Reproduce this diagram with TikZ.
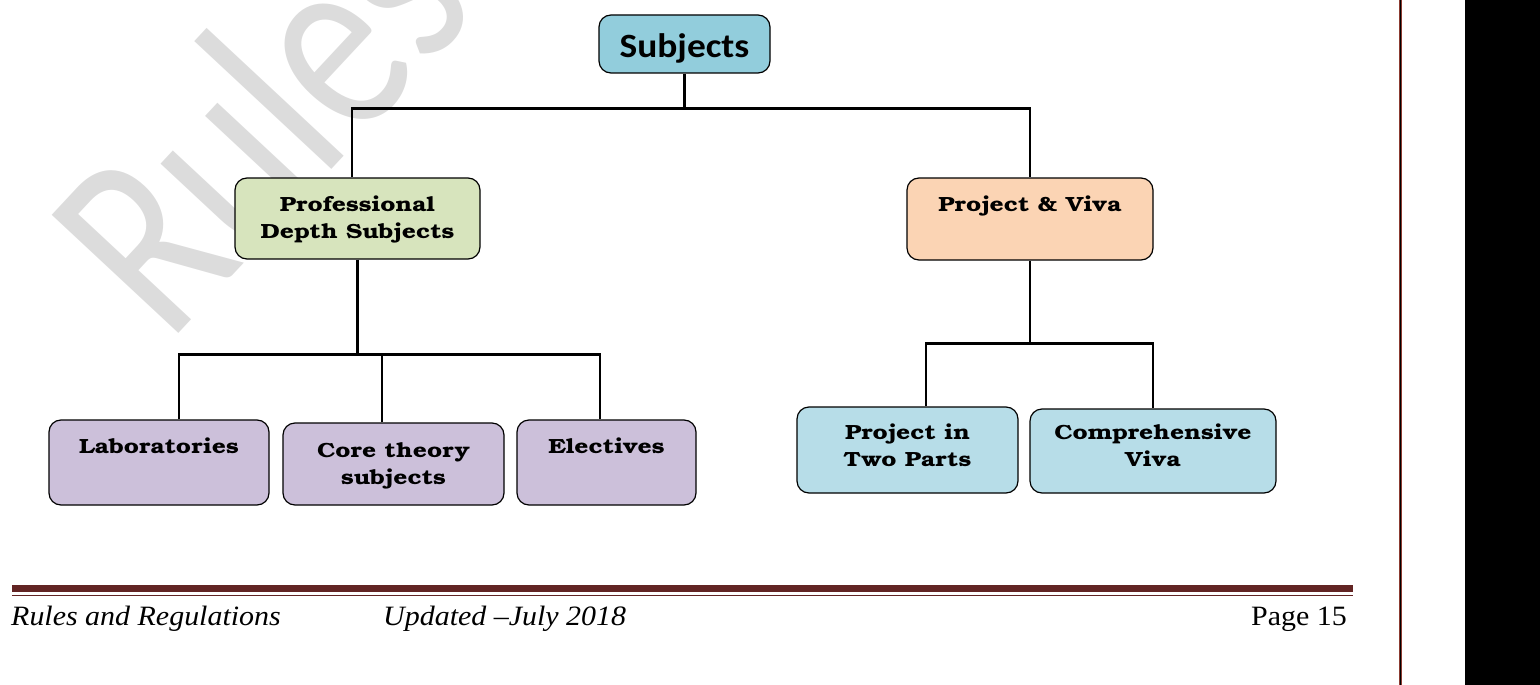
\documentclass[tikz,border=0pt]{standalone}
\usepackage{fontspec}
\usepackage{xcolor}
\usepackage{tikz}
\usetikzlibrary{positioning}

\newfontfamily\boxfont{texgyrebonum-bold.otf}[FakeStretch=1.2]
\newfontfamily\headfont{Carlito}[FakeStretch=1.1]
\newfontfamily\markfont{Carlito}
\newfontfamily\footfont{Liberation Serif}[FakeStretch=1.07]
\newfontfamily\footitfont{Liberation Serif}[FakeStretch=1.07]

\definecolor{subjblue}{HTML}{92CDDC}
\definecolor{pdsgreen}{HTML}{D7E4BD}
\definecolor{pvpeach}{HTML}{FBD4B4}
\definecolor{lablilac}{HTML}{CCC0DA}
\definecolor{projblue}{HTML}{B7DDE8}
\definecolor{rulemaroon}{HTML}{622423}
\definecolor{edgebrown}{HTML}{8C3C32}
\definecolor{markgray}{HTML}{DCDCDC}

\begin{document}
\begin{tikzpicture}[x=1pt, y=-1pt,
  unit/.style={draw=black, line width=1.2pt, rounded corners=12pt, inner sep=0pt},
  tag/.style={font=\boxfont\fontsize{20.5}{27}\selectfont, align=center, inner sep=0pt, anchor=north},
  wire/.style={line width=2.8pt},
  foot/.style={font=\footfont\fontsize{28}{30}\selectfont, inner sep=0pt},
  footit/.style={font=\footitfont\itshape\fontsize{28}{30}\selectfont, inner sep=0pt}]
\useasboundingbox (0,0) rectangle (1540,685);
\begin{scope}
\clip (0,0) rectangle (1540,685);
\node[font=\markfont\fontsize{270}{270}\selectfont, text=markgray, rotate=47, xscale=0.78, anchor=base west, inner sep=0pt] (mark) at (168,345) {Rules};
\end{scope}

\node[unit, fill=subjblue, minimum width=171pt, minimum height=58pt] (subj) at (684.5,44) {};
\node[unit, fill=pdsgreen, minimum width=245pt, minimum height=81pt] (pds) at (357.5,218.5) {};
\node[unit, fill=pvpeach, minimum width=246pt, minimum height=82pt] (pv) at (1030,219) {};
\node[unit, fill=lablilac, minimum width=220pt, minimum height=85pt] (lab) at (159,462.5) {};
\node[unit, fill=lablilac, minimum width=221pt, minimum height=82pt] (core) at (393.5,464) {};
\node[unit, fill=lablilac, minimum width=179pt, minimum height=85pt] (elec) at (606.5,462.5) {};
\node[unit, fill=projblue, minimum width=221pt, minimum height=86pt] (ptp) at (907.5,450) {};
\node[unit, fill=projblue, minimum width=246pt, minimum height=84pt] (cv) at (1153,451) {};

\node[font=\headfont\bfseries\fontsize{34}{40}\selectfont, inner sep=0pt, anchor=base] (subjT) at ([yshift=-43pt]subj.north) {Subjects};
\node[tag, below=18pt of pds.north] (pdsT) {Professional\\Depth Subjects};
\node[tag, below=18pt of pv.north] (pvT) {Project \& Viva};
\node[tag, below=18pt of lab.north] (labT) {Laboratories};
\node[tag, below=20pt of core.north] (coreT) {Core theory\\subjects};
\node[tag, below=18pt of elec.north] (elecT) {Electives};
\node[tag, below=17pt of ptp.north] (ptpT) {Project in\\Two Parts};
\node[tag, below=15pt of cv.north] (cvT) {Comprehensive\\Viva};

\draw[wire] (subj.south) -- ++(0,35) coordinate (top);
\draw[wire] ([xshift=-5.5pt]pds.north) |- (top) -| (pv.north);
\draw[wire] (pds.south) -- ++(0,95) coordinate (pdsJ);
\draw[wire] ([xshift=20pt]lab.north) |- (pdsJ) -| ([xshift=-6.5pt]elec.north);
\draw[wire] ([xshift=-11.5pt]core.north) -- ([xshift=-11.5pt]core.north |- pdsJ);
\draw[wire] (pv.south) -- ++(0,83) coordinate (pvJ);
\draw[wire] ([xshift=18.5pt]ptp.north) |- (pvJ) -| (cv.north);

\fill[rulemaroon] (12,585) rectangle (1353,592);
\fill[rulemaroon] (12,594.5) rectangle (1353,596);
\node[footit, anchor=base west] (ftA) at (11,625) {Rules and Regulations};
\node[footit, anchor=base west] (ftB) at (383,625) {Updated –July 2018};
\node[foot, anchor=base east] (ftC) at (1347,625) {Page 15};

\draw[line width=3pt, edgebrown] (1400.5,0) -- (1400.5,685);
\draw[line width=0.8pt, black] (1400.5,0) -- (1400.5,685);
\fill[black] (1465,0) rectangle (1540,685);
\end{tikzpicture}
\end{document}
